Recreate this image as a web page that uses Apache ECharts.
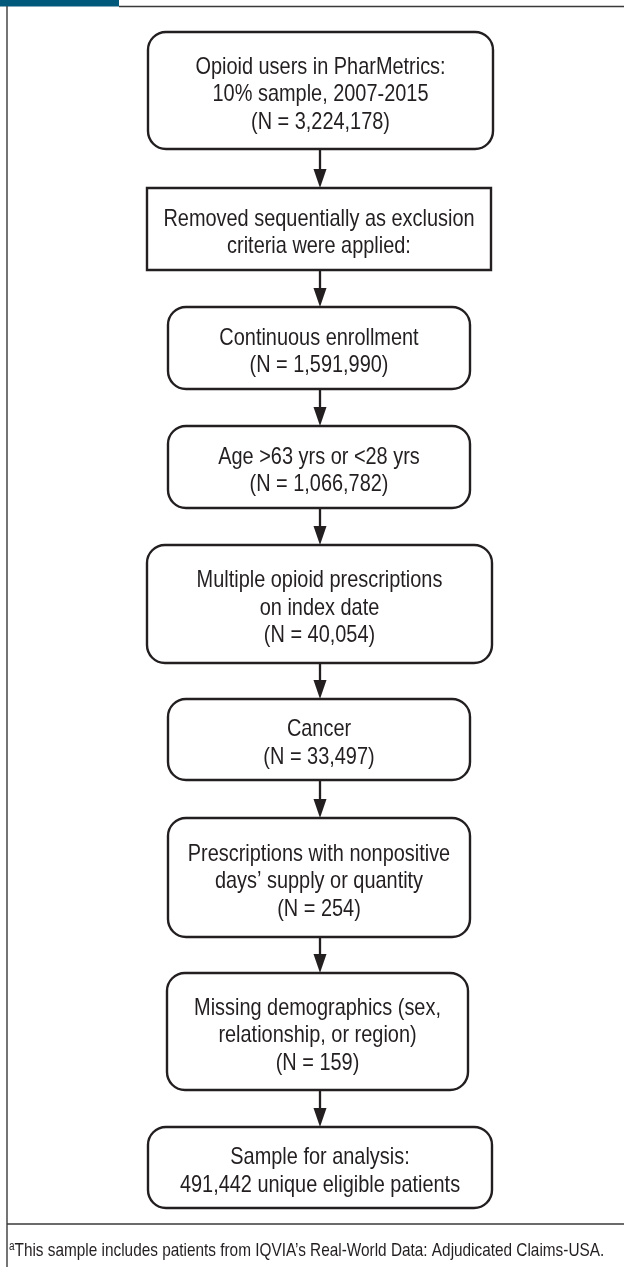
<!DOCTYPE html>
<html><head><meta charset="utf-8">
<script src="https://cdn.jsdelivr.net/npm/echarts@6/dist/echarts.min.js"></script>
<style>html,body{margin:0;padding:0;background:#fff}#c{width:624px;height:1267px}</style>
</head><body><div id="c"></div>
<script>
// ---- data ----
const stepLabels = [
  'Opioid users in PharMetrics:\n10% sample, 2007-2015',
  'Removed sequentially as exclusion\ncriteria were applied:',
  'Continuous enrollment',
  'Age >63 yrs or <28 yrs',
  'Multiple opioid prescriptions\non index date',
  'Cancer',
  'Prescriptions with nonpositive\ndays\u2019 supply or quantity',
  'Missing demographics (sex,\nrelationship, or region)',
  'Sample for analysis:\n491,442 unique eligible patients'
];
const stepCounts = ['3,224,178', null, '1,591,990', '1,066,782', '40,054', '33,497', '254', '159', null];
const footnoteMark = 'a';
const footnoteText = 'This sample includes patients from IQVIA\u2019s Real-World Data: Adjudicated Claims-USA.';

// ---- layout (pixels of the page) ----
const boxLeft   = [148, 147, 168, 168, 147, 168, 168, 167, 148];
const boxRight  = [493, 491, 470, 470, 492, 470, 470, 468, 492];
const boxTop    = [32, 188, 307, 426, 545, 699, 818, 973, 1127];
const boxBottom = [149, 270, 389, 508, 663, 780, 937, 1090, 1208];
const boxRounded = [true, false, true, true, true, true, true, true, true];
const arrowX = 320;

const INK = '#231f20';
const FONT = '"Liberation Sans",Arial,"Helvetica",sans-serif';
const NARROW = 0.83;

const chart = echarts.init(document.getElementById('c'), null, {renderer: 'canvas'});

const boxData = stepLabels.map((lab, i) => [boxLeft[i], boxTop[i], boxRight[i], boxBottom[i], i]);
const arrowData = stepLabels.slice(0, -1).map((_, i) => [arrowX, boxBottom[i], boxTop[i + 1]]);

chart.setOption({
  animation: false,
  grid: {left: 0, right: 0, top: 0, bottom: 0},
  xAxis: {type: 'value', min: 0, max: 624, show: false},
  yAxis: {type: 'value', min: 0, max: 1267, inverse: true, show: false},
  graphic: [
    {type: 'rect', shape: {x: 0, y: 0, width: 119, height: 6.5}, style: {fill: '#00587a'}},
    {type: 'line', shape: {x1: 119, y1: 6.5, x2: 624, y2: 6.5}, style: {stroke: '#3a3a3a', lineWidth: 1.4}},
    {type: 'line', shape: {x1: 7, y1: 6, x2: 7, y2: 1267}, style: {stroke: '#3a3a3a', lineWidth: 1.4}},
    {type: 'line', shape: {x1: 7, y1: 1224, x2: 624, y2: 1224}, style: {stroke: '#3a3a3a', lineWidth: 1.4}},
    {type: 'text', x: 9, y: 1251, scaleX: NARROW, style: {
      text: '{s|' + footnoteMark + '}{n|' + footnoteText + '}',
      verticalAlign: 'middle', align: 'left',
      rich: {
        s: {font: '12px ' + FONT, fill: INK, verticalAlign: 'top', padding: [0, 0, 9, 0]},
        n: {font: '18.5px ' + FONT, fill: INK}
      }
    }}
  ],
  series: [
    {
      type: 'custom',
      data: boxData,
      silent: true,
      renderItem: function (params, api) {
        const i = api.value(4);
        const p0 = api.coord([api.value(0), api.value(1)]);
        const p1 = api.coord([api.value(2), api.value(3)]);
        const txt = stepLabels[i] + (stepCounts[i] ? '\n(N = ' + stepCounts[i] + ')' : '');
        return {
          type: 'group',
          children: [
            {type: 'rect', shape: {x: p0[0], y: p0[1], width: p1[0] - p0[0], height: p1[1] - p0[1], r: boxRounded[i] ? 18 : 0},
             style: {fill: '#fff', stroke: INK, lineWidth: 2.4}},
            {type: 'text', x: (p0[0] + p1[0]) / 2, y: (p0[1] + p1[1]) / 2 + 4, scaleX: NARROW,
             style: {text: txt, x: 0, y: 0,
              align: 'center', verticalAlign: 'middle', font: '24px ' + FONT, lineHeight: 27.5, fill: INK}}
          ]
        };
      }
    },
    {
      type: 'custom',
      data: arrowData,
      silent: true,
      renderItem: function (params, api) {
        const a = api.coord([api.value(0), api.value(1)]);
        const b = api.coord([api.value(0), api.value(2)]);
        const hl = 19, hw = 6.5;
        return {
          type: 'group',
          children: [
            {type: 'line', shape: {x1: a[0], y1: a[1], x2: b[0], y2: b[1] - hl + 1}, style: {stroke: INK, lineWidth: 2.3}},
            {type: 'polygon', shape: {points: [[b[0] - hw, b[1] - hl], [b[0] + hw, b[1] - hl], [b[0], b[1]]]}, style: {fill: INK}}
          ]
        };
      }
    }
  ]
});
</script>
</body></html>
